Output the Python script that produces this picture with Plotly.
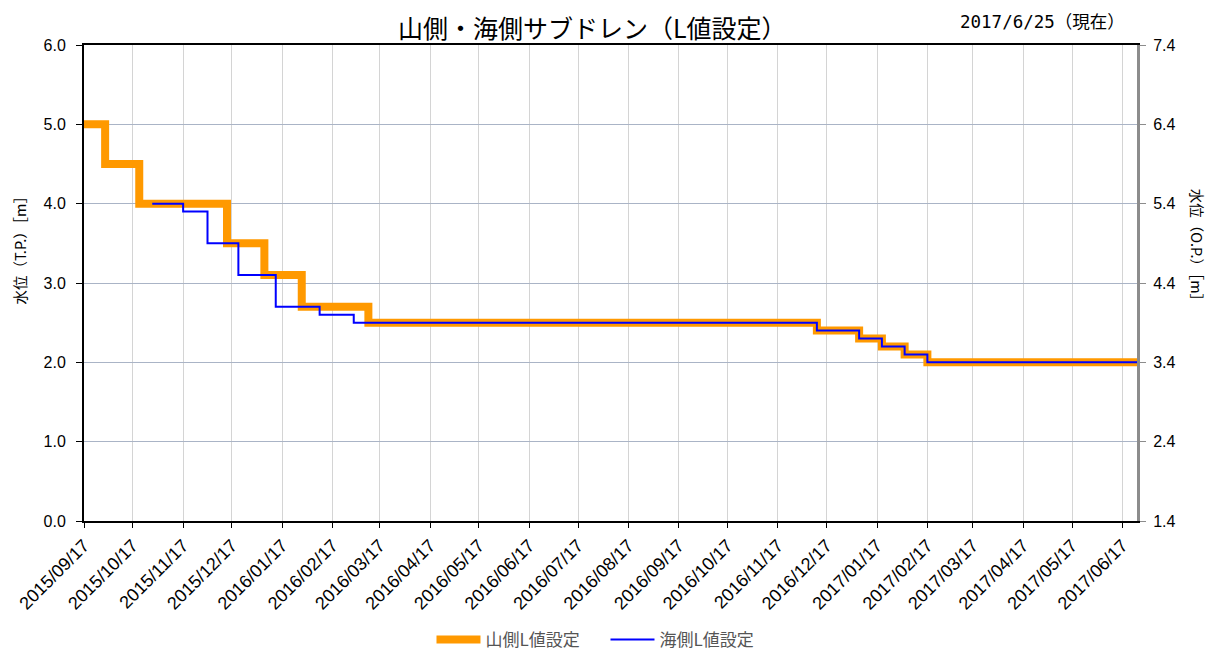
import plotly.graph_objects as go

# --- data ---
yama_dates = ["2015-09-17", "2015-09-30", "2015-10-21", "2015-12-14", "2016-01-06",
              "2016-01-29", "2016-03-10", "2016-12-11", "2017-01-06", "2017-01-20",
              "2017-02-03", "2017-02-17", "2017-06-26"]
yama_vals = [5.0, 4.5, 4.0, 3.5, 3.1, 2.7, 2.5, 2.4, 2.3, 2.2, 2.1, 2.0, 2.0]

umi_dates = ["2015-10-29", "2015-11-17", "2015-12-02", "2015-12-21", "2016-01-13",
             "2016-02-09", "2016-03-01", "2016-12-11", "2017-01-06", "2017-01-20",
             "2017-02-03", "2017-02-17", "2017-06-26"]
umi_vals = [4.0, 3.9, 3.5, 3.1, 2.7, 2.6, 2.5, 2.4, 2.3, 2.2, 2.1, 2.0, 2.0]

tick_dates = ["2015-09-17", "2015-10-17", "2015-11-17", "2015-12-17", "2016-01-17",
              "2016-02-17", "2016-03-17", "2016-04-17", "2016-05-17", "2016-06-17",
              "2016-07-17", "2016-08-17", "2016-09-17", "2016-10-17", "2016-11-17",
              "2016-12-17", "2017-01-17", "2017-02-17", "2017-03-17", "2017-04-17",
              "2017-05-17", "2017-06-17"]
tick_labels = [d.replace("-", "/") for d in tick_dates]

left_ticks = [0.0, 1.0, 2.0, 3.0, 4.0, 5.0, 6.0]
op_offset = 1.4
right_ticks = [v + op_offset for v in left_ticks]

LATIN = "Liberation Sans, Arial, Noto Sans CJK JP, sans-serif"
CJK = "Noto Sans CJK JP, Liberation Sans, sans-serif"
MONO = "DejaVu Sans Mono, Noto Sans CJK JP, monospace"

fig = go.Figure()
fig.add_trace(go.Scatter(
    x=yama_dates, y=yama_vals, mode="lines", line_shape="hv",
    line=dict(color="#FF9900", width=8), name="山側L値設定"))
fig.add_trace(go.Scatter(
    x=umi_dates, y=umi_vals, mode="lines", line_shape="hv",
    line=dict(color="#0000FF", width=2), name="海側L値設定"))
# invisible trace to carry the O.P. axis
fig.add_trace(go.Scatter(
    x=yama_dates, y=[v + op_offset for v in yama_vals], mode="lines",
    line=dict(color="rgba(0,0,0,0)", width=0), yaxis="y2",
    showlegend=False, hoverinfo="skip"))

fig.update_layout(
    width=1209, height=643,
    margin=dict(l=76, r=80, t=37, b=130, autoexpand=False),
    paper_bgcolor="white", plot_bgcolor="white",
    font=dict(family=LATIN, color="#000000", size=14),
    showlegend=True,
    legend=dict(orientation="h", x=0.33, xanchor="left", y=-0.25, yanchor="middle",
                font=dict(family=CJK, size=17, color="#555555"), itemwidth=44,
                entrywidth=115, entrywidthmode="pixels", tracegroupgap=0),
    xaxis=dict(
        type="date", range=["2015-09-17", "2017-06-26"], automargin=False,
        tickmode="array", tickvals=tick_dates, ticktext=tick_labels,
        tickangle=-45, tickfont=dict(size=18),
        showgrid=True, gridcolor="#d4d4d4", gridwidth=1,
        showline=True, linecolor="#000000", linewidth=2, mirror=True,
        ticks="outside", ticklen=5, tickcolor="#000000", zeroline=False),
    yaxis=dict(
        range=[0, 6], tickmode="array", tickvals=left_ticks, automargin=False,
        ticktext=[f"{v:.1f}" for v in left_ticks], tickfont=dict(size=16),
        ticklabelstandoff=7,
        showgrid=True, gridcolor="#aab4c6", gridwidth=1,
        showline=True, linecolor="#000000", linewidth=2,
        ticks="outside", ticklen=6, tickcolor="#000000", zeroline=False),
    yaxis2=dict(
        range=[op_offset, 6 + op_offset], overlaying="y", side="right", automargin=False,
        tickmode="array", tickvals=right_ticks, ticklabelstandoff=4,
        ticktext=[f"{v:.1f}" for v in right_ticks], tickfont=dict(size=16),
        showgrid=False, showline=True, linecolor="#8c8c8c", linewidth=3,
        ticks="outside", ticklen=6, tickcolor="#8c8c8c", zeroline=False),
    annotations=[
        dict(text="山側・海側サブドレン（L値設定）", xref="paper", yref="paper",
             x=0.483, y=1.0378, xanchor="center", yanchor="middle", showarrow=False,
             font=dict(family=CJK, size=25, color="#000000")),
        dict(text="2017/6/25（現在）", xref="paper", yref="paper",
             x=0.9905, y=1.048, xanchor="right", yanchor="middle", showarrow=False,
             font=dict(family=MONO, size=17.5, color="#000000")),
        dict(text="水位（T.P.）［m］", xref="paper", yref="paper",
             x=-0.061, y=0.576, xanchor="center", yanchor="middle", showarrow=False,
             textangle=-90, font=dict(family=CJK, size=14.5, color="#000000")),
        dict(text="水位（O.P.）［m］", xref="paper", yref="paper",
             x=1.057, y=0.574, xanchor="center", yanchor="middle", showarrow=False,
             textangle=90, font=dict(family=CJK, size=14.5, color="#000000")),
    ],
)

fig.write_html("out.html")
